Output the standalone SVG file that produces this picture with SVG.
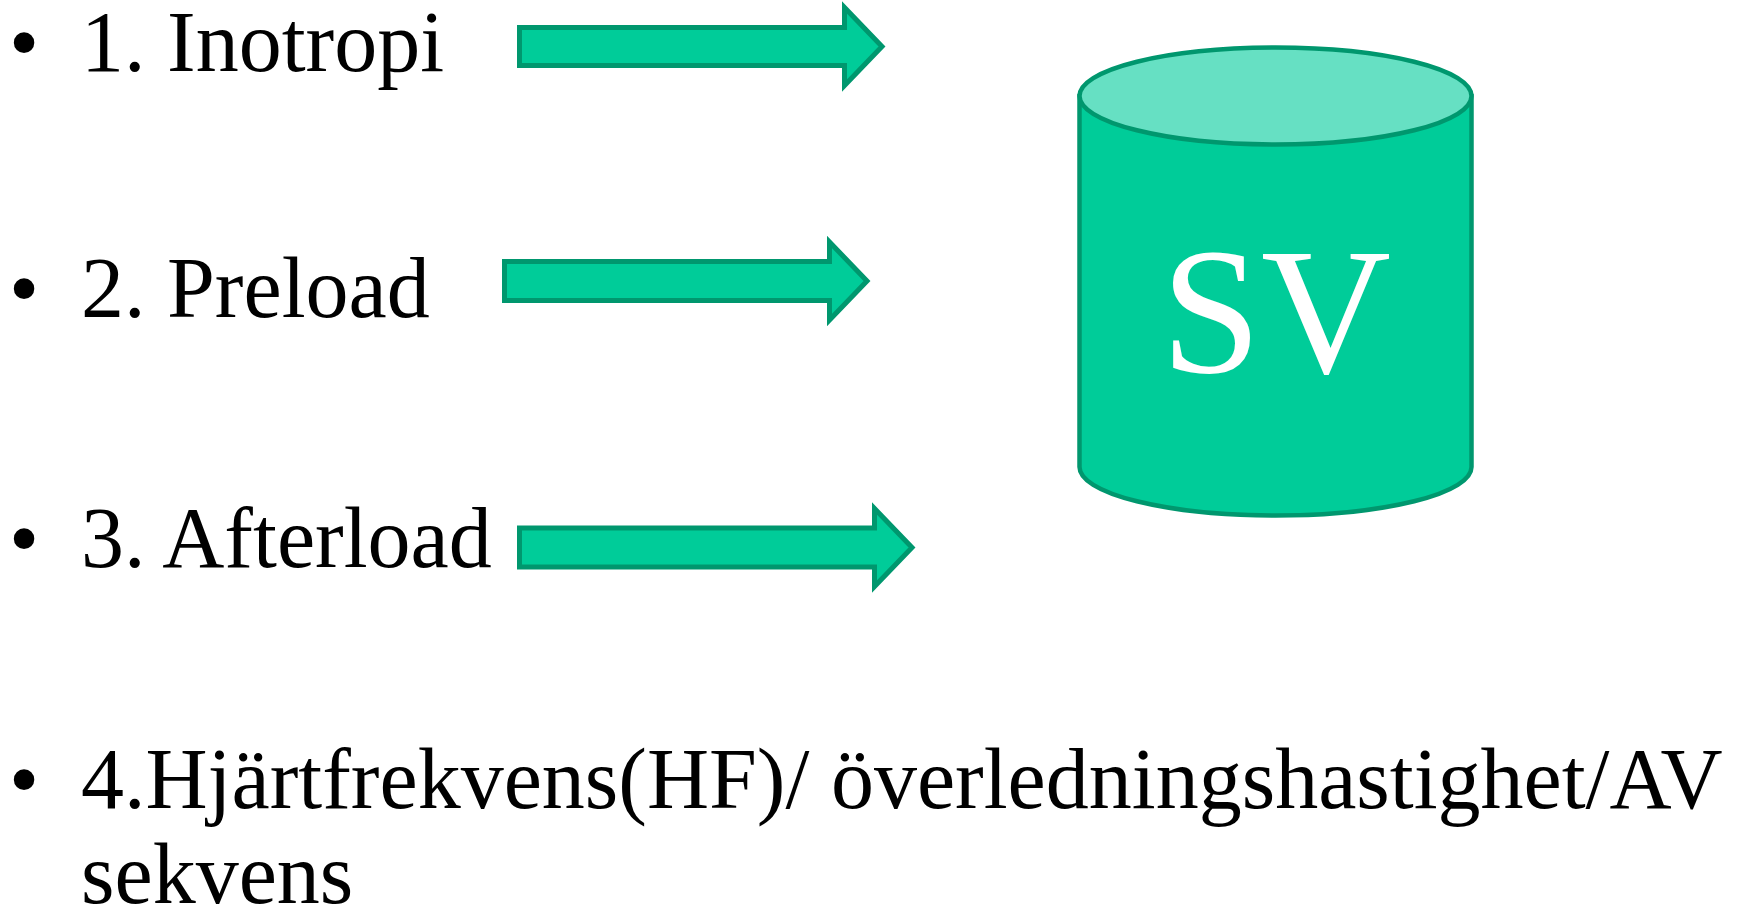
<svg xmlns="http://www.w3.org/2000/svg" width="1737" height="914" viewBox="0 0 1737 914">
<style>
.t{font-family:"Liberation Serif","Times New Roman",serif;font-size:86px;fill:#000}
.arrow{fill:#00CC99;stroke:#00976E;stroke-width:5;stroke-linejoin:miter}
.cyl{fill:#00CC99;stroke:#00976E;stroke-width:4.5}
.top{fill:#66E0C3;stroke:#00976E;stroke-width:4.5}
.sv{font-family:"Liberation Serif","Times New Roman",serif;font-size:180px;fill:#fff}
</style>
<rect width="1737" height="914" fill="#fff"/>
<g id="item1">
<text class="t" x="9" y="71">•</text>
<text class="t" x="81" y="71">1. Inotropi</text>
</g>
<g id="item2">
<text class="t" x="9" y="317">•</text>
<text class="t" x="81" y="317">2. Preload</text>
</g>
<g id="item3">
<text class="t" x="9" y="567">•</text>
<text class="t" x="81" y="567">3. Afterload</text>
</g>
<g id="item4">
<text class="t" x="9" y="808">•</text>
<text class="t" x="81" y="808">4.Hjärtfrekvens(HF)/ överledningshastighet/AV</text>
<text class="t" x="81" y="903">sekvens</text>
</g>
<g id="connectors">
<path class="arrow" d="M519.5,27.5 H844.5 V7.5 L882,46.5 L844.5,85.5 V65.5 H519.5 Z"/>
<path class="arrow" d="M504.5,261.5 H829.5 V242 L867,281 L829.5,320 V300.5 H504.5 Z"/>
<path class="arrow" d="M519.5,528 H874.5 V508.5 L912,547.5 L874.5,586.5 V567 H519.5 Z"/>
</g>
<g id="sv">
<path class="cyl" d="M1079.5,96 V467 A196,48.5 0 0 0 1471.5,467 V96 Z"/>
<ellipse class="top" cx="1275.5" cy="96" rx="196" ry="48.5"/>
<text class="sv" x="1276" y="372" text-anchor="middle">SV</text>
</g>
</svg>
